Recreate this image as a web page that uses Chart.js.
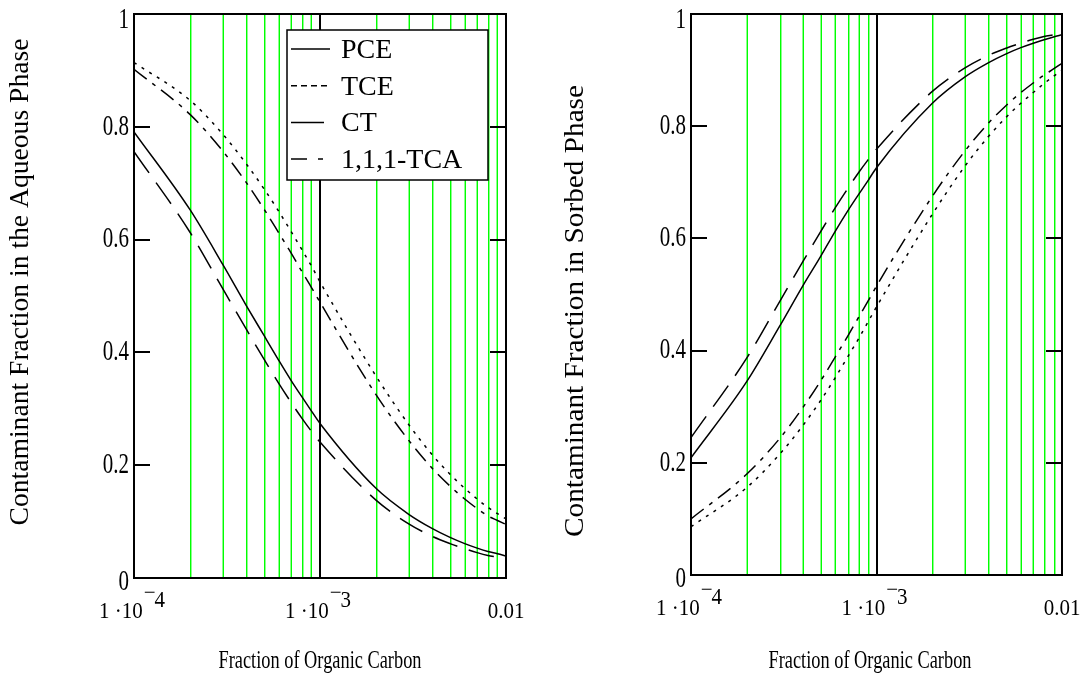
<!DOCTYPE html>
<html>
<head>
<meta charset="utf-8">
<title>Contaminant fraction vs organic carbon</title>
<script src="https://cdn.jsdelivr.net/npm/chart.js@4.4.1/dist/chart.umd.min.js"></script>
<style>
  html, body { margin: 0; padding: 0; background: #fff; }
  .panel { position: absolute; top: 0; width: 544px; height: 683px; }
  #left-panel { left: 0; }
  #right-panel { left: 544px; }
</style>
</head>
<body>
<div class="panel" id="left-panel"><canvas id="aqueous-chart" width="544" height="683"></canvas></div>
<div class="panel" id="right-panel"><canvas id="sorbed-chart" width="544" height="683"></canvas></div>
<script>
// Fraction of organic carbon (x), read at the grid lines
const foc = [0.0001, 0.0002, 0.0003, 0.0004, 0.0005, 0.0006, 0.0007, 0.0008, 0.0009,
  0.001, 0.002, 0.003, 0.004, 0.005, 0.006, 0.007, 0.008, 0.009, 0.01];

// Contaminant fraction in the aqueous phase
const aqueousPCE = [0.791, 0.653, 0.556, 0.484, 0.430, 0.386, 0.350, 0.321, 0.296, 0.274,
  0.159, 0.113, 0.088, 0.072, 0.061, 0.053, 0.047, 0.043, 0.039];
const aqueousTCE = [0.914, 0.847, 0.787, 0.735, 0.690, 0.650, 0.614, 0.582, 0.553, 0.525,
  0.358, 0.272, 0.219, 0.184, 0.159, 0.140, 0.125, 0.114, 0.105];
const aqueousCT = [0.756, 0.613, 0.513, 0.442, 0.388, 0.345, 0.311, 0.283, 0.260, 0.241,
  0.138, 0.096, 0.074, 0.061, 0.052, 0.045, 0.040, 0.037, 0.034];
const aqueousTCA = [0.902, 0.822, 0.757, 0.702, 0.654, 0.612, 0.576, 0.543, 0.515, 0.489,
  0.325, 0.244, 0.195, 0.163, 0.140, 0.123, 0.110, 0.102, 0.095];

// Contaminant fraction in the sorbed phase
const sorbedPCE = [0.209, 0.345, 0.443, 0.515, 0.568, 0.613, 0.649, 0.678, 0.703, 0.726,
  0.841, 0.888, 0.913, 0.929, 0.940, 0.948, 0.954, 0.959, 0.963];
const sorbedTCE = [0.086, 0.156, 0.215, 0.266, 0.311, 0.352, 0.389, 0.421, 0.451, 0.478,
  0.643, 0.729, 0.781, 0.816, 0.841, 0.860, 0.876, 0.889, 0.900];
const sorbedCT = [0.245, 0.387, 0.487, 0.558, 0.612, 0.655, 0.689, 0.717, 0.740, 0.759,
  0.862, 0.904, 0.926, 0.939, 0.948, 0.955, 0.960, 0.963, 0.966];
const sorbedTCA = [0.100, 0.180, 0.243, 0.298, 0.346, 0.389, 0.426, 0.459, 0.488, 0.515,
  0.675, 0.756, 0.805, 0.837, 0.860, 0.877, 0.891, 0.902, 0.912];

// Series names, axis ticks and labels
const seriesNames = ['PCE', 'TCE', 'CT', '1,1,1-TCA'];
const xGridValues = [0.0002, 0.0003, 0.0004, 0.0005, 0.0006, 0.0007, 0.0008, 0.0009,
  0.002, 0.003, 0.004, 0.005, 0.006, 0.007, 0.008, 0.009];
const xMarkerValue = 0.001;
const xLabelValues = [0.0001, 0.001, 0.01];
const yTickValues = [0, 0.2, 0.4, 0.6, 0.8, 1];
const xTitle = 'Fraction of Organic Carbon';
const aqueousTitle = 'Contaminant Fraction in the Aqueous Phase';
const sorbedTitle = 'Contaminant Fraction in Sorbed Phase';

const SERIF = '"Liberation Serif", "Times New Roman", serif';
const GREEN = '#00ff00';
const GREEN_EDGE = '#8cff8c';

// Line styles: solid, dotted, long dash, dash-dot
const lineDashes = [[], [3, 6], [26, 12], [16, 7, 4, 7]];
const legendDashes = [[], [6, 4], [], [16, 11, 5, 40]];
const legendLengths = [39, 38, 33, 34];

// Draw text with separate horizontal/vertical scaling
function drawText(ctx, text, x, y, size, sx, sy, align, baseline, angle) {
  ctx.save();
  ctx.translate(x, y);
  if (angle) ctx.rotate(angle);
  ctx.scale(sx, sy);
  ctx.font = size + 'px ' + SERIF;
  ctx.textAlign = align;
  ctx.textBaseline = baseline;
  ctx.fillStyle = '#000';
  ctx.fillText(text, 0, 0);
  ctx.restore();
}

function textWidth(ctx, text, size) {
  ctx.save();
  ctx.font = size + 'px ' + SERIF;
  const w = ctx.measureText(text).width;
  ctx.restore();
  return w;
}

// Label like 1·10^-4 with a raised exponent
function drawPowerLabel(ctx, exponent, cx, baseY) {
  const size = 21;
  const main = '1 \u00b710';
  const wMain = textWidth(ctx, main, size);
  const wMinus = textWidth(ctx, '\u2212', size);
  const wExp = textWidth(ctx, exponent, size);
  const start = cx - 2 - (wMain + wMinus + wExp) / 2;
  drawText(ctx, main, start, baseY, size, 1, 1.05, 'left', 'alphabetic');
  drawText(ctx, '\u2212', start + wMain + 1, baseY - 19, size, 1, 1, 'left', 'alphabetic');
  drawText(ctx, exponent, start + wMain + wMinus, baseY - 11, size, 1, 1.05, 'left', 'alphabetic');
}

// Green grid lines and the black line at 1e-3
const gridPlugin = {
  id: 'greenGrid',
  beforeDatasetsDraw(chart) {
    const ctx = chart.ctx;
    const area = chart.chartArea;
    const xs = chart.scales.x;
    const h = area.bottom - area.top;
    ctx.save();
    xGridValues.forEach(v => {
      const x = Math.round(xs.getPixelForValue(v));
      // pair of pixels on an even column so the colour survives compression
      const pair = x - (x % 2);
      const other = pair === x ? x + 1 : pair;
      ctx.fillStyle = GREEN_EDGE;
      ctx.fillRect(other, area.top, 1, h);
      ctx.fillStyle = GREEN;
      ctx.fillRect(x, area.top, 1, h);
    });
    ctx.fillStyle = '#000';
    const xm = Math.round(xs.getPixelForValue(xMarkerValue));
    ctx.fillRect(xm - 1, area.top, 2, h);
    ctx.restore();
  }
};

// Frame, inner ticks, labels, titles and legend
function framePlugin(cfg) {
  return {
    id: 'frame',
    afterDatasetsDraw(chart) {
      const ctx = chart.ctx;
      const area = chart.chartArea;
      const xs = chart.scales.x;
      const ys = chart.scales.y;

      // plot box
      ctx.save();
      ctx.strokeStyle = '#000';
      ctx.lineWidth = 2;
      ctx.strokeRect(area.left, area.top, area.right - area.left, area.bottom - area.top);

      // inward tick marks on both sides
      yTickValues.forEach(v => {
        const y = Math.round(ys.getPixelForValue(v));
        ctx.beginPath();
        ctx.moveTo(area.left, y);
        ctx.lineTo(area.left + 16, y);
        ctx.moveTo(area.right - 16, y);
        ctx.lineTo(area.right, y);
        ctx.stroke();
      });
      ctx.restore();

      // y tick labels
      yTickValues.forEach(v => {
        let y = ys.getPixelForValue(v);
        if (v === 1) y += 6;
        if (v === 0) y += 4;
        drawText(ctx, String(v), area.left - 5, y, 21, 1, 1.4, 'right', 'middle');
      });

      // x tick labels
      const baseY = area.bottom + 40;
      xLabelValues.forEach(v => {
        const x = xs.getPixelForValue(v);
        if (v === 0.01) {
          drawText(ctx, '0.01', x, baseY, 21, 1, 1.05, 'center', 'alphabetic');
        } else {
          drawPowerLabel(ctx, String(-Math.round(Math.log10(v))), x, baseY);
        }
      });

      // axis titles
      const xw = textWidth(ctx, xTitle, 23);
      drawText(ctx, xTitle, cfg.xTitleX, 668, 23, 203 / xw, 1.05, 'center', 'alphabetic');
      const yw = textWidth(ctx, cfg.yTitle, 27);
      drawText(ctx, cfg.yTitle, cfg.yTitleX, cfg.yTitleY, 27, cfg.yTitleLength / yw, 1,
        'center', 'middle', -Math.PI / 2);

      // legend box
      if (cfg.legend) {
        const L = cfg.legend;
        ctx.save();
        ctx.fillStyle = '#fff';
        ctx.fillRect(L.x, L.y, L.w, L.h);
        ctx.strokeStyle = '#000';
        ctx.lineWidth = 1.5;
        ctx.strokeRect(L.x, L.y, L.w, L.h);
        seriesNames.forEach((name, i) => {
          const rowY = L.y + 19 + i * 36.7;
          ctx.setLineDash(legendDashes[i]);
          ctx.beginPath();
          ctx.moveTo(L.x + 4, rowY);
          ctx.lineTo(L.x + 4 + legendLengths[i], rowY);
          ctx.stroke();
          ctx.setLineDash([]);
          drawText(ctx, name, L.x + 54, rowY + 9, 28, 1, 1, 'left', 'alphabetic');
        });
        ctx.restore();
      }
    }
  };
}

function makeDatasets(series) {
  return series.map((values, i) => ({
    label: seriesNames[i],
    data: foc.map((x, j) => ({ x: x, y: values[j] })),
    borderColor: '#000',
    borderWidth: 1.5,
    borderDash: lineDashes[i],
    pointRadius: 0,
    fill: false,
    cubicInterpolationMode: 'monotone'
  }));
}

function makeChart(canvasId, series, padding, cfg) {
  const ctx = document.getElementById(canvasId).getContext('2d');
  return new Chart(ctx, {
    type: 'line',
    data: { datasets: makeDatasets(series) },
    options: {
      responsive: false,
      animation: false,
      devicePixelRatio: 1,
      layout: { padding: padding },
      plugins: {
        legend: { display: false },
        tooltip: { enabled: false }
      },
      scales: {
        x: {
          type: 'logarithmic',
          min: 0.0001,
          max: 0.01,
          afterFit: s => { s.height = 0; },
          ticks: { display: false },
          border: { display: false },
          grid: { display: false }
        },
        y: {
          type: 'linear',
          min: 0,
          max: 1,
          afterFit: s => { s.width = 0; },
          ticks: { display: false, stepSize: 0.2 },
          border: { display: false },
          grid: { display: false }
        }
      }
    },
    plugins: [gridPlugin, framePlugin(cfg)]
  });
}

document.addEventListener('DOMContentLoaded', () => {
  makeChart('aqueous-chart', [aqueousPCE, aqueousTCE, aqueousCT, aqueousTCA],
    { left: 134, right: 38, top: 14, bottom: 105 },
    {
      yTitle: aqueousTitle, yTitleX: 21, yTitleY: 282, yTitleLength: 487,
      xTitleX: 320,
      legend: { x: 287, y: 30, w: 201, h: 150 }
    });

  makeChart('sorbed-chart', [sorbedPCE, sorbedTCE, sorbedCT, sorbedTCA],
    { left: 147, right: 26, top: 14, bottom: 108 },
    {
      yTitle: sorbedTitle, yTitleX: 32, yTitleY: 311, yTitleLength: 452,
      xTitleX: 326
    });
});
</script>
</body>
</html>
